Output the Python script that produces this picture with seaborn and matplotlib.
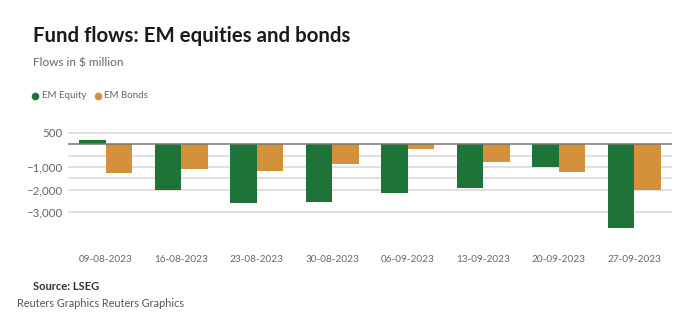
import numpy as np
import pandas as pd
import matplotlib
matplotlib.use("Agg")
import matplotlib.pyplot as plt
import seaborn as sns
from matplotlib.lines import Line2D

dates = ["09-08-2023", "16-08-2023", "23-08-2023", "30-08-2023",
         "06-09-2023", "13-09-2023", "20-09-2023", "27-09-2023"]
em_equity = [190, -2015, -2570, -2530, -2150, -1940, -1015, -3700]
em_bonds = [-1280, -1100, -1180, -850, -220, -765, -1205, -2015]
series_names = ["EM Equity", "EM Bonds"]
colors = ["#1e7338", "#d4913b"]
major_ticks = [500, -1000, -2000, -3000]
minor_ticks = [-500, -1500]

df = pd.DataFrame({
    "date": dates * 2,
    "value": em_equity + em_bonds,
    "series": [series_names[0]] * len(dates) + [series_names[1]] * len(dates),
})

sns.set_theme(style="white")
plt.rcParams["font.family"] = ["Lato", "DejaVu Sans"]

fig = plt.figure(figsize=(6.9, 3.23), dpi=100)
ax = fig.add_axes([0.0986, 0.2721, 0.8754, 0.3375])

sns.barplot(data=df, x="date", y="value", hue="series", palette=colors,
            width=0.705, ax=ax, legend=False, saturation=1, zorder=2,
            linewidth=0)

ax.set_xlim(-0.5, len(dates) - 0.5)
ax.set_ylim(-4000, 800)
ax.set_yticks(major_ticks)
ax.set_yticklabels([f"{v:,}".replace("-", "\u2212") for v in major_ticks])
ax.set_yticks(minor_ticks, minor=True)
ax.grid(axis="y", which="both", color="#dddddd", linewidth=1.3, zorder=0)
ax.grid(axis="x", visible=False)
ax.set_axisbelow(True)
ax.axhline(0, color="#777777", linewidth=1.1, zorder=3)
for s in ax.spines.values():
    s.set_visible(False)
ax.tick_params(axis="both", which="both", length=0, labelcolor="#666666")
ax.tick_params(axis="x", pad=14, labelsize=7.2)
ax.tick_params(axis="y", pad=4, labelsize=8.3)
ax.set_xlabel("")
ax.set_ylabel("")

fig.text(33 / 690, 1 - 42.5 / 323, "Fund flows: EM equities and bonds",
         fontsize=14.7, fontweight="bold", color="#1a1a1a", va="baseline")
fig.text(33 / 690, 1 - 67 / 323, "Flows in $ million",
         fontsize=8.5, color="#666666", va="baseline")

# legend (manual swatches)
for name, c, mx, tx in zip(series_names, colors, [35, 98], [42, 104]):
    fig.add_artist(Line2D([mx / 690], [1 - 96 / 323], marker="o",
                          linestyle="", markersize=4.5, markerfacecolor=c,
                          markeredgecolor=c, transform=fig.transFigure))
    fig.text(tx / 690, 1 - 96 / 323, name, fontsize=7.0, color="#666666",
             va="center")

fig.text(33 / 690, 1 - 289.5 / 323, "Source: LSEG", fontsize=8.0,
         fontweight="bold", color="#333333", va="baseline")
fig.text(17 / 690, 1 - 307 / 323, "Reuters Graphics Reuters Graphics",
         fontsize=7.8, color="#555555", va="baseline")

fig.savefig("out.png", dpi=100)
